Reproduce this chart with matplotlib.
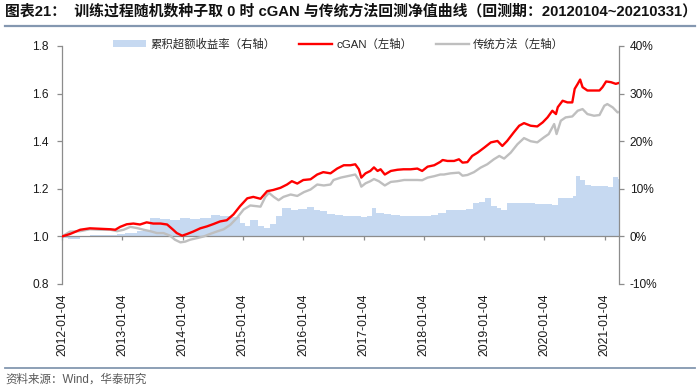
import matplotlib
matplotlib.use('Agg')
import matplotlib.pyplot as plt
import matplotlib.dates as mdates
from matplotlib.patches import Patch
from matplotlib.lines import Line2D
from matplotlib.ticker import FuncFormatter, FixedLocator, FixedFormatter
import numpy as np
import pandas as pd

plt.rcParams['font.family'] = ['Liberation Sans', 'Noto Sans CJK SC', 'DejaVu Sans']

# ---------------- data ----------------
title = "图表21：  训练过程随机数种子取 0 时 cGAN 与传统方法回测净值曲线（回测期：20120104~20210331）"
source = "资料来源：Wind，华泰研究"
legend_labels = ["累积超额收益率（右轴）", "cGAN（左轴）", "传统方法（左轴）"]
tick_labels = ["2012-01-04", "2013-01-04", "2014-01-04", "2015-01-04", "2016-01-04",
               "2017-01-04", "2018-01-04", "2019-01-04", "2020-01-04", "2021-01-04"]
start_date = "2012-01-04"
end_date = "2021-03-31"

# decimal-year positions and values
cgan_t = [2012.01, 2012.14, 2012.31, 2012.47, 2012.64, 2012.81, 2012.89, 2012.97,
          2013.08, 2013.19, 2013.30, 2013.41, 2013.52, 2013.64, 2013.75, 2013.85,
          2013.91, 2014.00, 2014.08, 2014.18, 2014.30, 2014.41, 2014.52, 2014.63,
          2014.74, 2014.85, 2014.96, 2015.08, 2015.18, 2015.30, 2015.41, 2015.51,
          2015.63, 2015.74, 2015.82, 2015.91, 2016.01, 2016.13, 2016.24, 2016.34,
          2016.46, 2016.57, 2016.68, 2016.79, 2016.87, 2016.93, 2016.97, 2017.04,
          2017.12, 2017.18, 2017.24, 2017.29, 2017.36, 2017.46, 2017.57, 2017.67,
          2017.79, 2017.90, 2017.98, 2018.07, 2018.18, 2018.28, 2018.32, 2018.40,
          2018.51, 2018.59, 2018.65, 2018.73, 2018.81, 2018.90, 2019.01, 2019.12,
          2019.23, 2019.31, 2019.39, 2019.50, 2019.59, 2019.67, 2019.78, 2019.89,
          2019.98, 2020.06, 2020.14, 2020.20, 2020.23, 2020.31, 2020.39, 2020.47,
          2020.51, 2020.56, 2020.60, 2020.64, 2020.72, 2020.83, 2020.92, 2020.97,
          2021.03, 2021.11, 2021.19, 2021.246]
cgan_v = [1.000, 1.010, 1.028, 1.034, 1.032, 1.030, 1.028, 1.040,
          1.051, 1.054, 1.050, 1.059, 1.054, 1.054, 1.050, 1.028,
          1.014, 1.003, 1.010, 1.020, 1.034, 1.042, 1.052, 1.063,
          1.068, 1.092, 1.127, 1.160, 1.166, 1.158, 1.190, 1.195,
          1.204, 1.218, 1.232, 1.222, 1.237, 1.240, 1.260, 1.270,
          1.265, 1.285, 1.299, 1.299, 1.303, 1.282, 1.247, 1.265,
          1.275, 1.290, 1.275, 1.282, 1.260, 1.275, 1.280, 1.282,
          1.282, 1.285, 1.275, 1.293, 1.299, 1.313, 1.321, 1.317,
          1.317, 1.324, 1.310, 1.312, 1.338, 1.352, 1.373, 1.395,
          1.401, 1.380, 1.401, 1.437, 1.465, 1.476, 1.465, 1.462,
          1.479, 1.500, 1.528, 1.514, 1.543, 1.570, 1.563, 1.563,
          1.620, 1.641, 1.659, 1.627, 1.613, 1.613, 1.613, 1.627,
          1.651, 1.648, 1.641, 1.645]

trad_t = [2012.01, 2012.14, 2012.31, 2012.47, 2012.64, 2012.81, 2012.92, 2013.03,
          2013.14, 2013.25, 2013.36, 2013.47, 2013.58, 2013.69, 2013.80, 2013.88,
          2013.97, 2014.05, 2014.13, 2014.25, 2014.36, 2014.47, 2014.58, 2014.69,
          2014.80, 2014.91, 2015.02, 2015.13, 2015.30, 2015.38, 2015.44, 2015.52,
          2015.60, 2015.68, 2015.80, 2015.91, 2016.02, 2016.13, 2016.24, 2016.35,
          2016.46, 2016.51, 2016.63, 2016.74, 2016.87, 2016.93, 2016.97, 2017.04,
          2017.12, 2017.18, 2017.26, 2017.36, 2017.46, 2017.57, 2017.68, 2017.79,
          2017.90, 2017.98, 2018.07, 2018.18, 2018.28, 2018.34, 2018.45, 2018.59,
          2018.65, 2018.73, 2018.84, 2018.95, 2019.06, 2019.17, 2019.26, 2019.34,
          2019.45, 2019.56, 2019.67, 2019.78, 2019.89, 2020.00, 2020.08, 2020.17,
          2020.21, 2020.28, 2020.36, 2020.47, 2020.56, 2020.64, 2020.72, 2020.83,
          2020.92, 2021.00, 2021.05, 2021.14, 2021.22, 2021.246]
trad_v = [1.000, 1.020, 1.022, 1.030, 1.028, 1.028, 1.022, 1.028,
          1.040, 1.035, 1.028, 1.022, 1.014, 1.014, 1.003, 0.986,
          0.975, 0.978, 0.986, 0.993, 1.000, 1.011, 1.021, 1.030,
          1.049, 1.078, 1.113, 1.130, 1.125, 1.166, 1.183, 1.166,
          1.152, 1.166, 1.176, 1.170, 1.186, 1.197, 1.218, 1.214,
          1.218, 1.237, 1.247, 1.253, 1.260, 1.237, 1.209, 1.223,
          1.232, 1.241, 1.232, 1.214, 1.229, 1.232, 1.237, 1.237,
          1.237, 1.236, 1.247, 1.253, 1.260, 1.260, 1.265, 1.268,
          1.255, 1.258, 1.270, 1.289, 1.303, 1.324, 1.338, 1.327,
          1.352, 1.387, 1.413, 1.400, 1.395, 1.416, 1.430, 1.472,
          1.430, 1.486, 1.500, 1.504, 1.528, 1.535, 1.514, 1.507,
          1.510, 1.549, 1.556, 1.542, 1.521, 1.523]

excess_t = [2012.01, 2012.11, 2012.22, 2012.31, 2012.47, 2012.64, 2012.81, 2012.92,
            2013.05, 2013.25, 2013.35, 2013.47, 2013.64, 2013.80, 2013.97, 2014.13,
            2014.30, 2014.47, 2014.63, 2014.80, 2014.96, 2015.05, 2015.13, 2015.25,
            2015.36, 2015.46, 2015.55, 2015.66, 2015.80, 2015.93, 2016.07, 2016.18,
            2016.29, 2016.41, 2016.54, 2016.67, 2016.82, 2016.96, 2017.06, 2017.14,
            2017.22, 2017.34, 2017.46, 2017.62, 2017.79, 2017.95, 2018.12, 2018.24,
            2018.37, 2018.54, 2018.70, 2018.82, 2018.92, 2019.02, 2019.12, 2019.22,
            2019.28, 2019.38, 2019.53, 2019.70, 2019.86, 2020.03, 2020.14, 2020.23,
            2020.36, 2020.48, 2020.53, 2020.59, 2020.68, 2020.78, 2020.95, 2021.06,
            2021.14, 2021.23]
excess_v = [-0.3, -0.6, -0.5, -0.2, 0.2, 0.3, 0.2, 0.5,
            0.7, 1.2, 1.4, 3.9, 3.7, 3.5, 3.9, 3.7,
            3.8, 4.5, 4.3, 4.1, 2.8, 2.2, 3.5, 2.1,
            1.8, 2.5, 4.2, 5.9, 5.6, 5.7, 6.1, 5.6,
            5.4, 4.8, 4.6, 4.3, 4.3, 4.1, 4.3, 5.9,
            4.9, 4.8, 4.4, 4.3, 4.3, 4.2, 4.6, 4.9,
            5.6, 5.5, 5.7, 7.1, 7.3, 8.0, 6.3, 6.0,
            5.6, 7.0, 7.0, 7.1, 6.8, 6.8, 6.6, 8.0,
            8.0, 8.4, 12.6, 11.8, 10.8, 10.6, 10.5, 10.3,
            12.4, 12.0]


def to_dt(yrs):
    out = []
    for y in yrs:
        yi = int(y)
        s = pd.Timestamp(yi, 1, 1)
        e = pd.Timestamp(yi + 1, 1, 1)
        out.append(s + (e - s) * (y - yi))
    return pd.DatetimeIndex(out)


cgan_d = to_dt(cgan_t)
trad_d = to_dt(trad_t)
exc_d = to_dt(excess_t)
x0 = pd.Timestamp(start_date)
x1 = pd.Timestamp(end_date)

# ---------------- figure ----------------
fig = plt.figure(figsize=(7.0, 3.91), dpi=100)
W, H = 700, 391
ax = fig.add_axes([62 / W, 1 - 284 / H, 557 / W, 238 / H])
ax2 = ax.twinx()
ax.set_zorder(ax2.get_zorder() + 1)
ax.patch.set_visible(False)

# bars (right axis)
exc_num = mdates.date2num(exc_d)
edges = np.append(exc_num, mdates.date2num(x1))
widths = np.diff(edges)
ax2.bar(exc_num, excess_v, width=widths, align='edge', color='#C6D9F1',
        linewidth=0, zorder=1)

# lines (left axis)
ax.plot(trad_d, trad_v, color='#BFBFBF', lw=1.7, zorder=3)
ax.plot(cgan_d, cgan_v, color='#FF0000', lw=1.7, zorder=4)

ax.set_xlim(mdates.date2num(x0), mdates.date2num(x1))
ax.set_ylim(0.8, 1.8)
ax2.set_ylim(-10, 40)

ax.set_yticks([0.8, 1.0, 1.2, 1.4, 1.6, 1.8])
ax.yaxis.set_major_formatter(FuncFormatter(lambda v, p: f"{v:.1f}"))
ax2.set_yticks([-10, 0, 10, 20, 30, 40])
ax2.yaxis.set_major_formatter(FuncFormatter(lambda v, p: f"{v:.0f}%"))

tick_pos = [mdates.date2num(pd.Timestamp(s)) for s in tick_labels]
ax.xaxis.set_major_locator(FixedLocator(tick_pos))
ax.xaxis.set_major_formatter(FixedFormatter(tick_labels))

spine_c = '#8C8C8C'
for a in (ax, ax2):
    a.spines['top'].set_visible(False)
    for s in ('left', 'right', 'bottom'):
        a.spines[s].set_color(spine_c)
        a.spines[s].set_linewidth(0.9)
ax2.spines['bottom'].set_visible(False)
ax.spines['right'].set_visible(False)
ax2.spines['left'].set_visible(False)
ax.spines['bottom'].set_position(('data', 1.0))

txt_c = '#1A1A1A'
ax.tick_params(axis='y', direction='out', length=3.6, width=0.9, color=spine_c,
               pad=6, labelsize=8.6, labelcolor=txt_c)
ax2.tick_params(axis='y', direction='out', length=3.6, width=0.9, color=spine_c,
                pad=4, labelsize=8.6, labelcolor=txt_c)
ax.tick_params(axis='x', direction='out', length=3, width=0.9, color=spine_c,
               pad=38, labelsize=8.8, labelcolor=txt_c, labelrotation=90)
for lab in ax.get_xticklabels():
    lab.set_ha('center')
    lab.set_va('top')

# legend
handles = [Patch(facecolor='#C6D9F1', edgecolor='none'),
           Line2D([], [], color='#FF0000', lw=1.7),
           Line2D([], [], color='#BFBFBF', lw=1.7)]
leg = fig.legend(handles, legend_labels, loc='center left',
                 bbox_to_anchor=(113 / W, 1 - 44 / H), ncol=3, frameon=False,
                 fontsize=8.2, handlelength=2.9, handleheight=0.55,
                 handletextpad=0.35, columnspacing=2.1, borderpad=0,
                 borderaxespad=0)
for t in leg.get_texts():
    t.set_color('#262626')

# title, rules and source
fig.text(5 / W, 1 - 11 / H, title, fontsize=10.7, fontweight='bold',
         ha='left', va='center', color='#111111')
line_c = '#8497B0'
fig.add_artist(Line2D([5 / W, 695 / W], [1 - 26 / H, 1 - 26 / H],
                      color=line_c, lw=1.6, transform=fig.transFigure))
fig.add_artist(Line2D([5 / W, 695 / W], [1 - 368 / H, 1 - 368 / H],
                      color=line_c, lw=1.3, transform=fig.transFigure))
fig.text(5 / W, 1 - 380 / H, source, fontsize=8.3, ha='left', va='center',
         color='#595959')

fig.savefig('out.png', dpi=100)
